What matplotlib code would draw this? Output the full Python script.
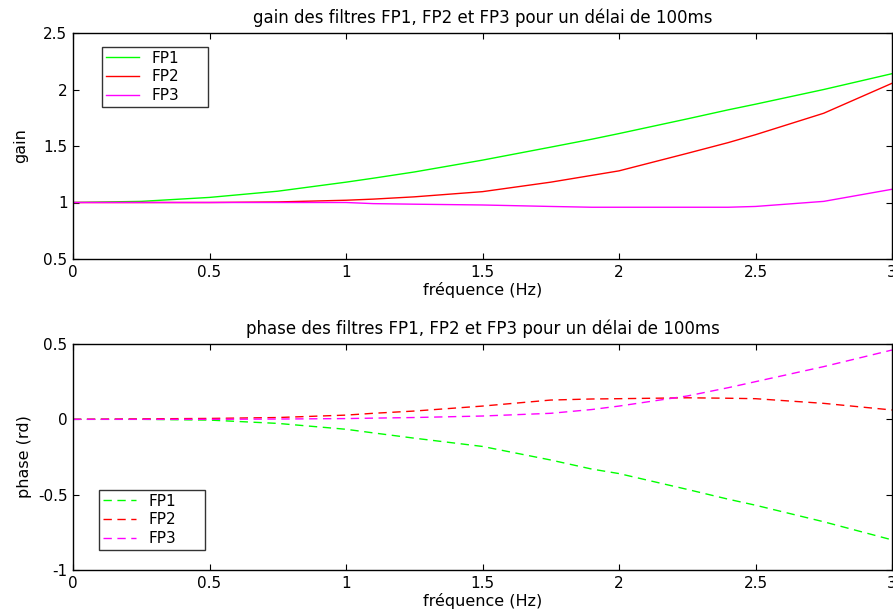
import matplotlib
matplotlib.use("Agg")
import matplotlib.pyplot as plt

plt.rcParams['font.family'] = ['DejaVu Sans']
plt.rcParams['axes.unicode_minus'] = False

freq = [0.0, 0.25, 0.5, 0.75, 1.0, 1.1, 1.25, 1.5, 1.75, 1.9, 2.0, 2.25, 2.4, 2.5, 2.75, 3.0]

gain_fp1 = [1.0, 1.01, 1.045, 1.10, 1.18, 1.215, 1.27, 1.375, 1.49, 1.56, 1.61, 1.74, 1.82, 1.87, 2.0, 2.14]
gain_fp2 = [1.0, 1.0, 1.0, 1.005, 1.02, 1.03, 1.05, 1.096, 1.18, 1.24, 1.28, 1.435, 1.53, 1.6, 1.79, 2.055]
gain_fp3 = [1.0, 1.0, 1.0, 1.0, 1.0, 0.99, 0.985, 0.978, 0.965, 0.958, 0.958, 0.958, 0.958, 0.965, 1.01, 1.117]

phase_fp1 = [0.0, 0.0, -0.005, -0.027, -0.066, -0.09, -0.125, -0.18, -0.27, -0.33, -0.36, -0.465, -0.53, -0.57, -0.68, -0.80]
phase_fp2 = [0.0, 0.003, 0.006, 0.012, 0.028, 0.04, 0.055, 0.088, 0.128, 0.135, 0.137, 0.143, 0.14, 0.137, 0.106, 0.062]
phase_fp3 = [0.0, 0.0, 0.0, 0.002, 0.005, 0.008, 0.012, 0.022, 0.04, 0.065, 0.088, 0.155, 0.21, 0.25, 0.35, 0.46]

labels = ['FP1', 'FP2', 'FP3']
colors = ['#00ff00', '#ff0000', '#ff00ff']
xticks = [0, 0.5, 1, 1.5, 2, 2.5, 3]
xticklabels = ['0', '0.5', '1', '1.5', '2', '2.5', '3']

fig = plt.figure(figsize=(8.93, 6.13), dpi=100)
ax1 = fig.add_axes([73/893, 1-259/613, 819/893, 226/613])
ax2 = fig.add_axes([73/893, 1-570/613, 819/893, 226/613])

for y, lab, c in zip([gain_fp1, gain_fp2, gain_fp3], labels, colors):
    ax1.plot(freq, y, color=c, lw=1.0, label=lab)
for y, lab, c in zip([phase_fp1, phase_fp2, phase_fp3], labels, colors):
    ax2.plot(freq, y, color=c, lw=1.0, label=lab, dashes=(6, 4))

fs = 11
fst = 12
fsl = 11.5
ax1.set_xlim(0, 3)
ax1.set_ylim(0.5, 2.5)
ax1.set_xticks(xticks)
ax1.set_xticklabels(xticklabels)
ax1.set_yticks([0.5, 1, 1.5, 2, 2.5])
ax1.set_yticklabels(['0.5', '1', '1.5', '2', '2.5'])
ax1.set_title('gain des filtres FP1, FP2 et FP3 pour un délai de 100ms', fontsize=fst, pad=7)
ax1.set_xlabel('fréquence (Hz)', fontsize=fsl, labelpad=2)
ax1.set_ylabel('gain', fontsize=fsl, labelpad=11)

ax2.set_xlim(0, 3)
ax2.set_ylim(-1, 0.5)
ax2.set_xticks(xticks)
ax2.set_xticklabels(xticklabels)
ax2.set_yticks([-1, -0.5, 0, 0.5])
ax2.set_yticklabels(['-1', '-0.5', '0', '0.5'])
ax2.set_title('phase des filtres FP1, FP2 et FP3 pour un délai de 100ms', fontsize=fst, pad=7)
ax2.set_xlabel('fréquence (Hz)', fontsize=fsl, labelpad=2)
ax2.set_ylabel('phase (rd)', fontsize=fsl, labelpad=4)

for ax in (ax1, ax2):
    ax.tick_params(direction='in', top=True, right=True, length=4, width=0.8, labelsize=fs, pad=4)
    for s in ax.spines.values():
        s.set_linewidth(1.0)

legkw = dict(fontsize=fs, frameon=True, fancybox=False, edgecolor='black', handlelength=2.2,
             borderpad=0.25, labelspacing=0.25, handletextpad=0.8, borderaxespad=0.0,
             mode='expand')
leg1 = ax1.legend(loc='upper left', bbox_to_anchor=(29/819, 1-14/226, 106/819, 0.001), **legkw)
leg1.get_frame().set_linewidth(1.0)
leg2 = ax2.legend(loc='upper left', bbox_to_anchor=(26/819, 1-146/226, 106/819, 0.001), **legkw)
leg2.get_frame().set_linewidth(1.0)

fig.savefig('out.png', dpi=100)
